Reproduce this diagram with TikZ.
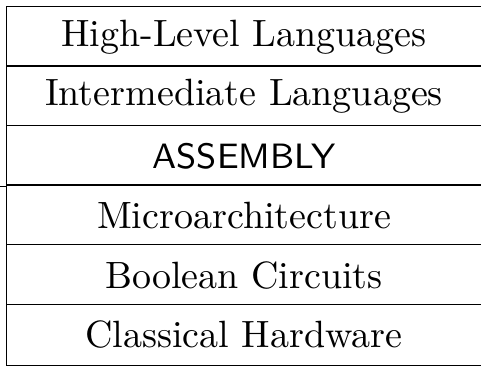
\documentclass[tikz,border=0pt]{standalone}
\begin{document}
\begin{tikzpicture}[x=0.25pt,y=-0.25pt,line width=0.35pt,
  row/.style={minimum width=118.5pt,minimum height=14.9pt,inner sep=0pt,
    font=\fontsize{9.5}{11.4}\selectfont},
  rowsans/.style={row,font=\fontsize{8.8}{10.5}\selectfont\sffamily}]
\useasboundingbox (0,0) rectangle (481,365);
\clip (0,0) rectangle (481,365);
\node[row] (r1) at (244,36.8) {High-Level Languages};
\node[row] (r2) at (244,96.4) {Intermediate Languages};
\node[rowsans] (r3) at (244,156) {ASSEMBLY};
\node[row] (r4) at (244,215.6) {Microarchitecture};
\node[row] (r5) at (244,275.2) {Boolean Circuits};
\node[row] (r6) at (244,334.8) {Classical Hardware};
\draw (r1.north west) -- (r6.south west);
\foreach \r in {r1,r2,r3,r4,r5,r6}{\draw (\r.north west) -- ++(500,0);}
\draw (r6.south west) -- ++(500,0);
\draw (r3.south west) -- ++(-10,0);
\end{tikzpicture}
\end{document}
